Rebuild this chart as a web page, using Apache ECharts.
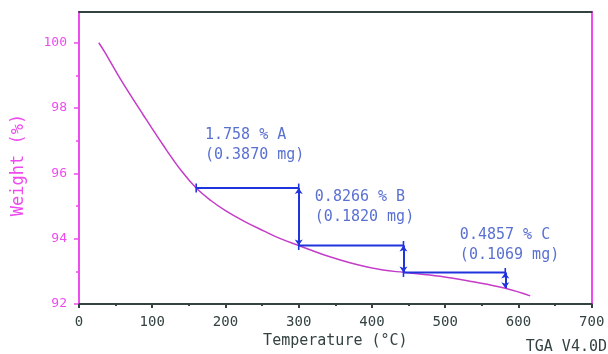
<!DOCTYPE html>
<html>
<head>
<meta charset="utf-8">
<script src="https://cdn.jsdelivr.net/npm/echarts@6/dist/echarts.min.js"></script>
<style>
  html, body { margin: 0; padding: 0; background: #fff; }
  #chart { width: 608px; height: 354px; }
</style>
</head>
<body>
<div id="chart"></div>
<script>
// TGA weight-loss curve: temperature (°C) vs weight (%)
const temperature = [27, 35, 56, 88, 115, 140, 160, 180, 200, 225, 252, 275, 300, 334, 379, 415, 443, 493, 538, 582, 616];
const weight = [100.0, 99.72, 98.91, 97.78, 96.86, 96.07, 95.55, 95.17, 94.86, 94.54, 94.24, 94.0, 93.79, 93.51, 93.21, 93.04, 92.97, 92.85, 92.68, 92.48, 92.25];

// Step analysis: start/end temperatures and the weight levels between them
const stepNames = ['A', 'B', 'C'];
const stepStartT = [160, 300, 443];
const stepEndT = [300, 443, 582];
const stepPercent = [1.758, 0.8266, 0.4857];
const stepMass = ['0.3870', '0.1820', '0.1069'];
const stepTopLevel = [95.55, 93.792, 92.9654];
const stepLabelPos = [[172, 97.16], [322, 95.27], [520, 94.11]];

const yMajorTicks = [92, 94, 96, 98, 100];
const yMinorTicks = [93, 95, 97, 99];

const MAGENTA = '#ee4cee';
const CURVE = '#c43cc8';
const BLUE = '#1f34dc';
const TEXT_BLUE = '#2f4cc6';
const DARK = '#344242';
const MONO = '"DejaVu Sans Mono", "Liberation Mono", monospace';

const curveData = temperature.map((t, i) => [t, weight[i]]);

const series = [{
  type: 'line',
  data: curveData,
  smooth: 0.4,
  showSymbol: false,
  lineStyle: { color: CURVE, width: 1.5 },
  z: 3
}];

stepNames.forEach((name, i) => {
  const top = stepTopLevel[i];
  const bottom = top - stepPercent[i];
  // horizontal level line from the step start to the step end
  series.push({
    type: 'line',
    data: [[stepStartT[i], top], [stepEndT[i], top]],
    symbol: 'rect',
    symbolSize: [1.6, 9],
    showSymbol: true,
    itemStyle: { color: BLUE },
    lineStyle: { color: BLUE, width: 2 },
    z: 4
  });
  // double-headed arrow spanning the weight loss
  series.push({
    type: 'lines',
    coordinateSystem: 'cartesian2d',
    data: [{ coords: [[stepEndT[i], top], [stepEndT[i], bottom]] }],
    symbol: ['arrow', 'arrow'],
    symbolSize: 6,
    lineStyle: { color: BLUE, width: 2, opacity: 1 },
    z: 4
  });
  // annotation text
  series.push({
    type: 'scatter',
    data: [stepLabelPos[i]],
    symbolSize: 0,
    silent: true,
    label: {
      show: true,
      position: [0, -10],
      align: 'left',
      verticalAlign: 'top',
      formatter: () => stepPercent[i] + ' % ' + name + '\n(' + stepMass[i] + ' mg)',
      fontFamily: MONO,
      fontSize: 15,
      lineHeight: 20,
      color: TEXT_BLUE
    }
  });
});

const chart = echarts.init(document.getElementById('chart'), null, { renderer: 'canvas' });
chart.setOption({
  backgroundColor: '#ffffff',
  animation: false,
  grid: { left: 79, right: 16.3, top: 11.7, bottom: 45.7, containLabel: false },
  xAxis: [{
    type: 'value',
    position: 'bottom',
    min: 0, max: 700, interval: 100,
    axisLine: { onZero: false, lineStyle: { color: DARK, width: 2 } },
    axisTick: { show: true, inside: false, length: 4, lineStyle: { color: DARK, width: 2 } },
    minorTick: { show: true, splitNumber: 2, length: 2, lineStyle: { color: DARK, width: 2 } },
    axisLabel: { color: DARK, fontFamily: MONO, fontSize: 14, margin: 11 },
    splitLine: { show: false },
    name: 'Temperature (°C)',
    nameLocation: 'middle',
    nameGap: 30,
    nameTextStyle: { color: DARK, fontFamily: MONO, fontSize: 15 }
  }, {
    type: 'value',
    position: 'top',
    min: 0, max: 700,
    axisLine: { onZero: false, lineStyle: { color: DARK, width: 2 } },
    axisTick: { show: false },
    axisLabel: { show: false },
    splitLine: { show: false }
  }],
  yAxis: [{
    type: 'value',
    position: 'left',
    min: 92, max: 100.95,
    axisLine: { onZero: false, lineStyle: { color: MAGENTA, width: 2 } },
    axisTick: { show: true, length: 5, customValues: yMajorTicks, lineStyle: { color: MAGENTA, width: 1.5 } },
    axisLabel: { color: MAGENTA, fontFamily: MONO, fontSize: 13, margin: 12, customValues: yMajorTicks },
    splitLine: { show: false }
  }, {
    type: 'value',
    position: 'left',
    min: 92, max: 100.95,
    axisLine: { show: false, onZero: false },
    axisTick: { show: true, length: 3, customValues: yMinorTicks, lineStyle: { color: MAGENTA, width: 1.5 } },
    axisLabel: { show: false },
    splitLine: { show: false }
  }, {
    type: 'value',
    position: 'right',
    min: 92, max: 100.95,
    axisLine: { show: true, onZero: false, lineStyle: { color: MAGENTA, width: 2 } },
    axisTick: { show: false },
    axisLabel: { show: false },
    splitLine: { show: false }
  }],
  graphic: [{
    type: 'text',
    x: 19, y: 165,
    rotation: Math.PI / 2,
    style: {
      text: 'Weight (%)',
      fill: MAGENTA,
      font: '17px ' + MONO,
      align: 'center',
      verticalAlign: 'middle'
    }
  }, {
    type: 'text',
    x: 607, y: 347,
    style: {
      text: 'TGA V4.0D',
      fill: DARK,
      font: '15px ' + MONO,
      align: 'right',
      verticalAlign: 'middle'
    }
  }],
  series: series
});
</script>
</body>
</html>
